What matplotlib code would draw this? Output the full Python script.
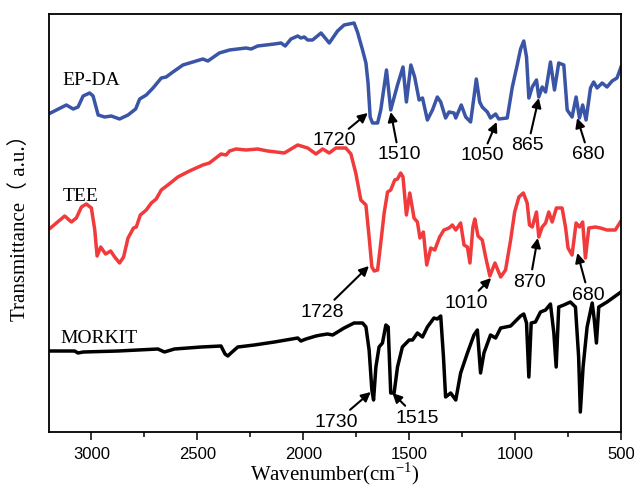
import matplotlib.pyplot as plt
from matplotlib.ticker import MultipleLocator

# EP-DA spectrum (wavenumber, transmittance a.u.)
epda_wn = [3193, 3118, 3086, 3063, 3039, 3008, 2992, 2968, 2937, 2906, 2867, 2827, 2791, 2772,
           2741, 2709, 2670, 2647, 2615, 2568, 2521, 2474, 2450, 2396, 2348, 2270, 2246, 2215,
           2136, 2105, 2085, 2058, 2026, 2011, 1995, 1979, 1956, 1916, 1877, 1838, 1807, 1760,
           1744, 1720, 1704, 1694, 1684, 1673, 1649, 1634, 1607, 1587, 1555, 1529, 1513, 1492,
           1474, 1453, 1437, 1414, 1390, 1367, 1351, 1328, 1312, 1288, 1280, 1254, 1233, 1210,
           1194, 1183, 1167, 1155, 1131, 1116, 1092, 1077, 1037, 1013, 990, 974, 959, 946, 935,
           919, 899, 888, 872, 856, 833, 814, 794, 770, 754, 731, 712, 696, 681, 665, 644, 629,
           613, 589, 566, 542, 519, 500]
epda_t = [319, 327, 323, 325, 336, 339, 336, 317, 315, 316, 313, 317, 323, 333,
          337, 344, 354, 355, 360, 367, 370, 373, 371, 379, 382, 384, 383, 386,
          388, 389, 386, 393, 396, 394, 395, 392, 392, 399, 389, 401, 407, 409,
          400, 382, 369, 349, 315, 309, 309, 322, 362, 322, 347, 365, 330, 367,
          355, 332, 334, 312, 322, 335, 330, 314, 320, 319, 314, 327, 315, 310,
          335, 353, 330, 325, 320, 314, 318, 313, 314, 345, 367, 383, 391, 375, 334,
          345, 352, 335, 345, 340, 370, 342, 369, 367, 322, 315, 335, 314, 327, 312, 344, 350,
          344, 349, 345, 351, 354, 365]

# TEE spectrum
tee_wn = [3193, 3126, 3094, 3071, 3047, 3024, 3000, 2984, 2973, 2956, 2933, 2909, 2890, 2867,
          2848, 2827, 2801, 2788, 2769, 2741, 2717, 2694, 2670, 2639, 2592, 2537, 2474, 2443,
          2388, 2364, 2348, 2317, 2270, 2215, 2168, 2089, 2026, 1979, 1940, 1908, 1877, 1846,
          1799, 1775, 1752, 1728, 1704, 1689, 1676, 1665, 1649, 1634, 1618, 1602, 1587, 1568,
          1555, 1540, 1529, 1513, 1497, 1477, 1461, 1449, 1433, 1417, 1398, 1379, 1356, 1336,
          1312, 1296, 1280, 1257, 1241, 1225, 1213, 1199, 1190, 1175, 1155, 1139, 1119, 1095,
          1068, 1045, 1021, 1002, 982, 961, 943, 932, 919, 899, 888, 872, 856, 841, 825, 805,
          778, 762, 750, 731, 712, 696, 681, 668, 652, 621, 597, 566, 527, 500]
tee_t = [204, 216, 210, 214, 225, 228, 224, 202, 176, 185, 178, 181, 175, 169,
         175, 194, 204, 205, 217, 222, 229, 233, 242, 247, 255, 261, 267, 269,
         278, 277, 281, 283, 282, 283, 281, 279, 287, 284, 278, 283, 279, 284,
         284, 278, 259, 232, 227, 195, 165, 161, 162, 189, 219, 240, 242, 252,
         253, 259, 255, 217, 239, 214, 210, 194, 200, 167, 184, 182, 195, 202,
         204, 207, 202, 209, 187, 185, 169, 205, 213, 196, 192, 175, 156, 169,
         155, 162, 192, 220, 235, 239, 229, 207, 205, 220, 195, 205, 209, 220, 210, 224,
         224, 205, 184, 177, 209, 205, 210, 174, 204, 205, 204, 202, 202, 211]

# MORKIT spectrum
mork_wn = [3192, 3079, 3063, 3039, 2874, 2686, 2655, 2608, 2482, 2388, 2369, 2356, 2341, 2309,
           2231, 2136, 2026, 2011, 1987, 1940, 1916, 1885, 1861, 1807, 1760, 1720, 1704, 1689,
           1676, 1668, 1657, 1642, 1626, 1610, 1599, 1587, 1571, 1555, 1532, 1500, 1484, 1461,
           1437, 1414, 1383, 1367, 1351, 1338, 1328, 1304, 1280, 1257, 1225, 1194, 1178, 1171,
           1163, 1147, 1116, 1092, 1068, 1021, 974, 959, 946, 935, 924, 904, 880, 856, 833,
           817, 806, 794, 770, 739, 715, 700, 692, 679, 660, 636, 626, 616, 605, 566, 500]
mork_t = [81, 81, 79, 80, 81, 83, 80, 83, 85, 86, 78, 76, 79, 85,
          87, 90, 94, 91, 93, 96, 97, 98, 97, 104, 109, 109, 105, 82,
          42, 32, 65, 85, 89, 107, 105, 39, 39, 65, 85, 92, 92, 99,
          95, 105, 114, 113, 116, 75, 35, 39, 32, 59, 79, 97, 102, 82,
          59, 79, 97, 94, 104, 106, 116, 118, 109, 55, 109, 110, 120, 122, 128,
          99, 65, 125, 127, 130, 125, 75, 20, 65, 105, 129, 112, 89, 125, 130, 140]

# peak labels: text, arrow tip (wn, t), text position (wn, t)
peak_labels = ['1720', '1510', '1050', '865', '680',
               '1728', '1010', '870', '680',
               '1730', '1515']
peak_tip = [(1695, 319), (1587, 320), (1087, 310), (888, 334), (707, 314),
            (1690, 166), (1113, 154), (893, 194), (706, 179),
            (1681, 40), (1579, 39)]
peak_text = [(1855, 291), (1548, 277), (1155, 276), (940, 286), (652, 277),
             (1912, 120), (1229, 129), (930, 150), (652, 137),
             (1846, 10), (1461, 14)]

series_names = ['EP-DA', 'TEE', 'MORKIT']
name_pos = [(3137, 351), (3137, 236), (3146, 94)]

serif = ['Liberation Serif', 'Noto Sans CJK SC']
sans = 'Liberation Sans'

fig = plt.figure(figsize=(6.34, 4.86), dpi=100)
ax = fig.add_axes([0.0773, 0.1111, 0.9022, 0.8601])

ax.plot(epda_wn, epda_t, color='#3A54A6', lw=2.5)
ax.plot(tee_wn, tee_t, color='#F03A3C', lw=2.5)
ax.plot(mork_wn, mork_t, color='black', lw=2.5)

for lab, tip, txt in zip(peak_labels, peak_tip, peak_text):
    ax.annotate(lab, xy=tip, xytext=txt, ha='center', va='center',
                fontsize=14, family=sans,
                arrowprops=dict(arrowstyle='-|>', color='black', lw=1.5,
                                mutation_scale=14, shrinkA=1, shrinkB=0))

for name, pos in zip(series_names, name_pos):
    ax.text(pos[0], pos[1], name, ha='left', va='center', fontsize=14, family=serif)

ax.set_xlim(3200, 500)
ax.set_ylim(0, 418)
ax.xaxis.set_major_locator(MultipleLocator(500))
ax.xaxis.set_minor_locator(MultipleLocator(250))
ax.set_yticks([])
ax.tick_params(axis='x', which='major', direction='out', length=5.5, width=1.1,
               labelsize=12, pad=5)
ax.tick_params(axis='x', which='minor', direction='out', length=3.5, width=1.1)
for lbl in ax.get_xticklabels():
    lbl.set_family(sans)
for sp in ax.spines.values():
    sp.set_linewidth(1.3)

ax.set_xlabel('Wavenumber(cm$^{\\mathregular{-1}}$)', fontsize=15, family=serif, labelpad=-1)
ax.set_ylabel('Transmittance（ a.u.）', fontsize=15, family=serif, labelpad=14)

fig.savefig('out.png', dpi=100)
